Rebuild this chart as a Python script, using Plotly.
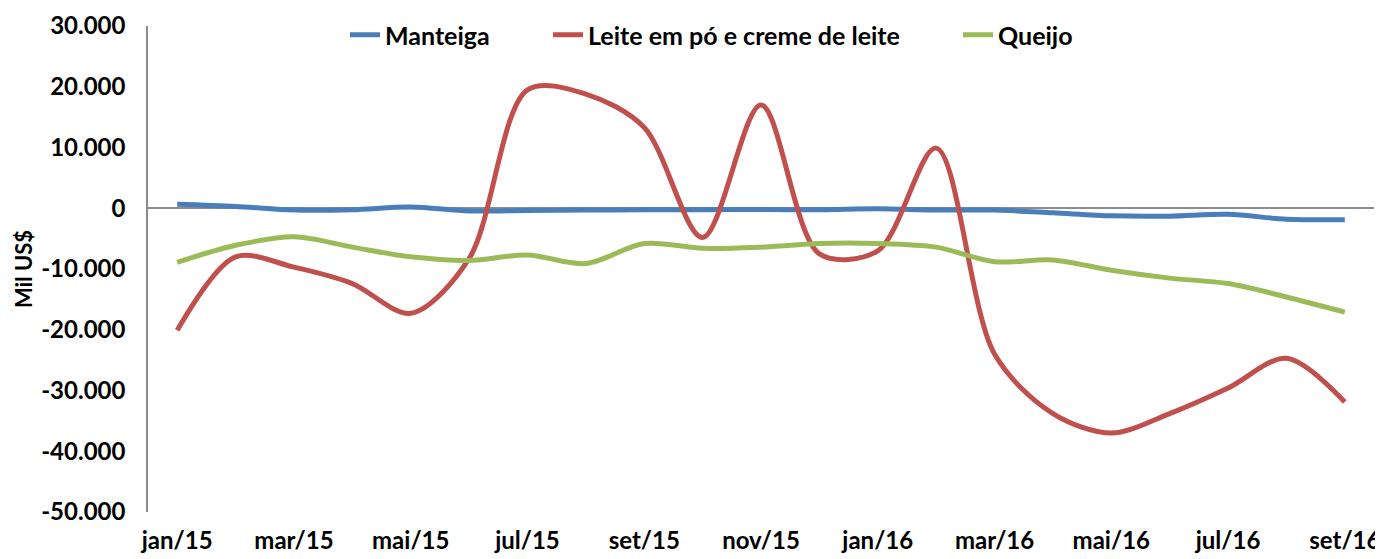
import plotly.graph_objects as go

months = ["jan/15", "fev/15", "mar/15", "abr/15", "mai/15", "jun/15", "jul/15", "ago/15",
          "set/15", "out/15", "nov/15", "dez/15", "jan/16", "fev/16", "mar/16", "abr/16",
          "mai/16", "jun/16", "jul/16", "ago/16", "set/16"]

manteiga = [650, 300, -300, -250, 200, -450, -350, -300, -250, -250, -200, -250, -100,
            -300, -300, -750, -1250, -1300, -1000, -1800, -1900]
leite = [-20100, -8000, -9700, -12400, -17300, -8300, 19500, 18800, 13300, -4800, 17000,
         -7500, -7000, 9900, -24000, -33800, -37000, -33800, -29600, -24700, -31900]
queijo = [-8900, -6100, -4700, -6400, -8000, -8600, -7700, -9100, -5800, -6600, -6400,
          -5800, -5800, -6400, -8800, -8500, -10200, -11500, -12400, -14600, -17100]

series_names = ["Manteiga", "Leite em pó e creme de leite", "Queijo"]
colors = ["#4A7EBB", "#C0504D", "#9BBB59"]

y_ticks = [30000, 20000, 10000, 0, -10000, -20000, -30000, -40000, -50000]
y_ticktext = ["30.000", "20.000", "10.000", "0", "-10.000", "-20.000", "-30.000", "-40.000", "-50.000"]

x_idx = list(range(len(months)))

font_family = "Lato, 'Open Sans', sans-serif"

# figure geometry (page body has an 8px margin)
W, H = 1375, 551
ML, MR, MT, MB = 140, 9, 18, 47
plot_w = W - ML - MR
plot_h = H - MT - MB

legend_ids = ["legend", "legend2", "legend3"]
# page x where each legend entry begins
legend_page_x = [345, 548, 958]

fig = go.Figure()
for name, vals, c, lid in zip(series_names, [manteiga, leite, queijo], colors, legend_ids):
    fig.add_trace(go.Scatter(
        x=x_idx, y=vals, name=name, mode="lines", legend=lid,
        line=dict(color=c, width=5, shape="spline", smoothing=0.9),
    ))

legend_common = dict(orientation="h", yanchor="middle",
                     y=1 - (35 - 26) / plot_h,
                     font=dict(size=25, family=font_family, weight="bold"),
                     bgcolor="rgba(0,0,0,0)", borderwidth=0)
legend_layout = {}
for lid, px in zip(legend_ids, legend_page_x):
    legend_layout[lid] = dict(legend_common, x=(px - 8 - ML) / plot_w, xanchor="left")

fig.update_layout(
    width=W, height=H,
    margin=dict(l=ML, r=MR, t=MT, b=MB, autoexpand=False),
    plot_bgcolor="white", paper_bgcolor="white",
    font=dict(family=font_family, color="black"),
    showlegend=True,
    xaxis=dict(
        range=[-0.5, 20.5], tickmode="array", tickvals=x_idx[::2], ticktext=months[::2],
        showgrid=False, zeroline=False, showline=False, ticks="", automargin=False,
        ticklabelstandoff=12,
        tickfont=dict(size=24, family=font_family, weight="bold"),
    ),
    yaxis=dict(
        range=[-50000, 30000], tickmode="array", tickvals=y_ticks, ticktext=y_ticktext,
        showgrid=False, zeroline=True, zerolinecolor="#8C8C8C", zerolinewidth=1.5,
        showline=True, linecolor="#8C8C8C", linewidth=1.5, ticks="", automargin=False,
        ticklabelstandoff=16,
        tickfont=dict(size=24, family=font_family, weight="bold"),
        title=dict(text="Mil US$", font=dict(size=22, family=font_family, weight="bold"), standoff=2),
    ),
    **legend_layout,
)

fig.write_html("out.html")
